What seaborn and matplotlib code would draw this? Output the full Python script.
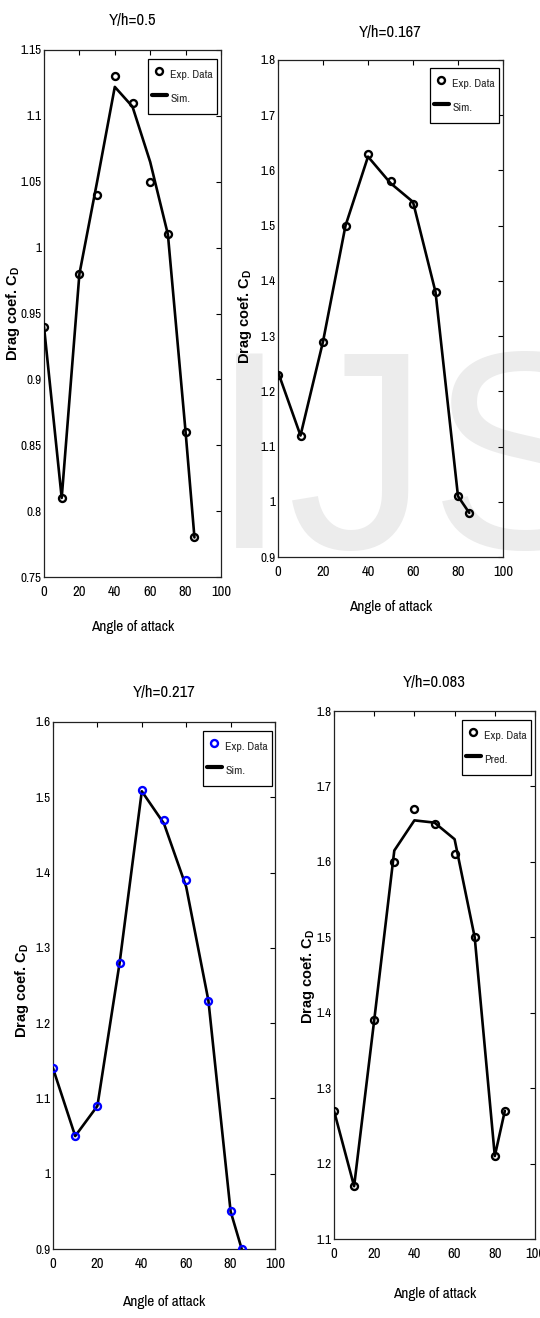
import numpy as np
import pandas as pd
import matplotlib
matplotlib.use("Agg")
import matplotlib.pyplot as plt
import seaborn as sns
from matplotlib import font_manager as fm
from matplotlib.lines import Line2D

# ---------------- data ----------------
angles = [0, 10, 20, 30, 40, 50, 60, 70, 80, 85]

p1_title = "Y/h=0.5"
p1_exp = [0.94, 0.81, 0.98, 1.04, 1.13, 1.11, 1.05, 1.01, 0.86, 0.78]
p1_sim = [0.94, 0.81, 0.98, 1.05, 1.122, 1.107, 1.065, 1.01, 0.86, 0.78]
p1_yticks = [0.75, 0.8, 0.85, 0.9, 0.95, 1.0, 1.05, 1.1, 1.15]
p1_yticklabels = ["0.75", "0.8", "0.85", "0.9", "0.95", "1", "1.05", "1.1", "1.15"]

p2_title = "Y/h=0.167"
p2_exp = [1.23, 1.12, 1.29, 1.50, 1.63, 1.58, 1.54, 1.38, 1.01, 0.98]
p2_sim = [1.235, 1.12, 1.29, 1.50, 1.625, 1.577, 1.543, 1.38, 1.01, 0.98]
p2_yticks = [0.9, 1.0, 1.1, 1.2, 1.3, 1.4, 1.5, 1.6, 1.7, 1.8]
p2_yticklabels = ["0.9", "1", "1.1", "1.2", "1.3", "1.4", "1.5", "1.6", "1.7", "1.8"]

p3_title = "Y/h=0.217"
p3_exp = [1.14, 1.05, 1.09, 1.28, 1.51, 1.47, 1.39, 1.23, 0.95, 0.90]
p3_sim = [1.14, 1.05, 1.09, 1.28, 1.508, 1.465, 1.381, 1.23, 0.95, 0.90]
p3_yticks = [0.9, 1.0, 1.1, 1.2, 1.3, 1.4, 1.5, 1.6]
p3_yticklabels = ["0.9", "1", "1.1", "1.2", "1.3", "1.4", "1.5", "1.6"]

p4_title = "Y/h=0.083"
p4_exp = [1.27, 1.17, 1.39, 1.60, 1.67, 1.65, 1.61, 1.50, 1.21, 1.27]
p4_sim = [1.27, 1.17, 1.39, 1.615, 1.655, 1.652, 1.63, 1.50, 1.21, 1.27]
p4_yticks = [1.1, 1.2, 1.3, 1.4, 1.5, 1.6, 1.7, 1.8]
p4_yticklabels = ["1.1", "1.2", "1.3", "1.4", "1.5", "1.6", "1.7", "1.8"]

xticks = [0, 20, 40, 60, 80, 100]
xticklabels = ["0", "20", "40", "60", "80", "100"]

exp_label = "Exp. Data"
sim_labels = ["Sim.", "Sim.", "Sim.", "Pred."]
xlabel = "Angle of attack"
ylabel = r"Drag coef. C$_\mathbf{D}$"
watermark = "IJS"

# ---------------- style ----------------
sns.set_theme(style="white")


def find_condensed():
    best = None
    for f in fm.fontManager.ttflist:
        fn = f.fname.lower()
        nm = f.name.lower()
        if any(k in fn for k in ("bold", "italic", "oblique", "light", "thin", "black", "medium")):
            continue
        is_c = ("narrow" in nm or "condensed" in nm or "condensed" in fn
                or "narrow" in fn or str(f.stretch) in ("condensed", "semi-condensed",
                                                        "extra-condensed", "ultra-condensed"))
        if not is_c:
            continue
        if "narrow" in nm or "narrow" in fn:
            score = 3
        elif "roboto" in fn:
            score = 2
        else:
            score = 1
        if best is None or score > best[0]:
            best = (score, f.fname)
    return best[1] if best else None


cpath = find_condensed()


def fp(size):
    if cpath:
        return fm.FontProperties(fname=cpath, size=size)
    return fm.FontProperties(family="Liberation Sans", size=size * 0.85)


plt.rcParams["font.family"] = ["Liberation Sans", "DejaVu Sans"]
plt.rcParams["mathtext.fontset"] = "custom"
plt.rcParams["mathtext.bf"] = "Liberation Sans:bold"
plt.rcParams["mathtext.rm"] = "Liberation Sans"

W, H = 540, 1318
fig = plt.figure(figsize=(W / 100, H / 100), dpi=100)
fig.patch.set_facecolor("white")

# watermark behind everything
fig.text(210 / W, 1 - 548 / H, watermark, fontsize=204, color="#ececec",
         family="Liberation Sans", ha="left", va="baseline", zorder=-10)

# panel boxes in pixels: left, top, right, bottom
boxes = [
    (44, 50, 221, 577),
    (278, 60, 503, 557),
    (53, 722, 275, 1249),
    (334, 711, 535, 1239),
]
legend_rt = [(217, 59), (499, 68), (272, 731), (531, 720)]
ylabel_x = [13, 245, 22, 308]
ylabel_yc = [313, 316, 990, 976]
xlabel_y = [627, 607, 1302, 1294]
title_y = [20, 32, 692, 683]

panels = [
    (p1_title, p1_exp, p1_sim, p1_yticks, p1_yticklabels, "black"),
    (p2_title, p2_exp, p2_sim, p2_yticks, p2_yticklabels, "black"),
    (p3_title, p3_exp, p3_sim, p3_yticks, p3_yticklabels, "#0000ff"),
    (p4_title, p4_exp, p4_sim, p4_yticks, p4_yticklabels, "black"),
]

for i, (title, exp, sim, yt, ytl, mcol) in enumerate(panels):
    l, t, r, b = boxes[i]
    ax = fig.add_axes([l / W, 1 - b / H, (r - l) / W, (b - t) / H])
    ax.set_facecolor("none")
    df = pd.DataFrame({"angle": angles, "exp": exp, "sim": sim})

    sns.lineplot(data=df, x="angle", y="sim", ax=ax, color="black",
                 linewidth=1.9, sort=False, estimator=None, zorder=3)
    sns.lineplot(data=df, x="angle", y="exp", ax=ax, color=mcol,
                 linestyle="", marker="o", markersize=5,
                 markerfacecolor="none", markeredgecolor=mcol,
                 markeredgewidth=1.7, sort=False, estimator=None, zorder=4)

    ax.set_xlim(0, 100)
    ax.set_ylim(yt[0], yt[-1])
    ax.set_xticks(xticks)
    ax.set_xticklabels(xticklabels)
    ax.set_yticks(yt)
    ax.set_yticklabels(ytl)
    ax.tick_params(direction="in", length=3.5, width=0.8, top=True, right=True,
                   colors="black")
    ax.tick_params(axis="x", pad=6)
    ax.tick_params(axis="y", pad=2)
    for lbl in ax.get_xticklabels():
        lbl.set_fontproperties(fp(10.5))
    for lbl in ax.get_yticklabels():
        lbl.set_fontproperties(fp(9.5))
    for s in ax.spines.values():
        s.set_visible(True)
        s.set_color("#222222")
        s.set_linewidth(0.9)

    ax.set_xlabel("")
    ax.set_ylabel("")
    fig.text(((l + r) / 2) / W, 1 - xlabel_y[i] / H, xlabel, fontproperties=fp(11),
             ha="center", va="center", color="black")
    fig.text(ylabel_x[i] / W, 1 - ylabel_yc[i] / H, ylabel, fontsize=10.5,
             family="Liberation Sans", fontweight="bold", rotation=90,
             ha="center", va="center", color="black")
    fig.text(((l + r) / 2) / W, 1 - title_y[i] / H, title, fontproperties=fp(12),
             ha="center", va="center", color="black")

    handles = [
        Line2D([], [], linestyle="", marker="o", markersize=5,
               markerfacecolor="none", markeredgecolor=mcol, markeredgewidth=1.7),
        Line2D([], [], color="black", linewidth=3),
    ]
    lr, lt = legend_rt[i]
    leg = ax.legend(handles, [exp_label, sim_labels[i]], loc="upper right",
                    bbox_to_anchor=((lr - l) / (r - l), 1 - (lt - t) / (b - t)),
                    borderaxespad=0, frameon=True, fancybox=False, shadow=False,
                    prop=fp(8.5), handlelength=1.2, handletextpad=0.3,
                    handleheight=2.6, labelspacing=0.1, borderpad=0.35)
    leg.get_frame().set_edgecolor("black")
    leg.get_frame().set_linewidth(0.9)
    leg.get_frame().set_facecolor("white")
    leg.get_frame().set_alpha(1)

fig.savefig("out.png", dpi=100, facecolor="white")
